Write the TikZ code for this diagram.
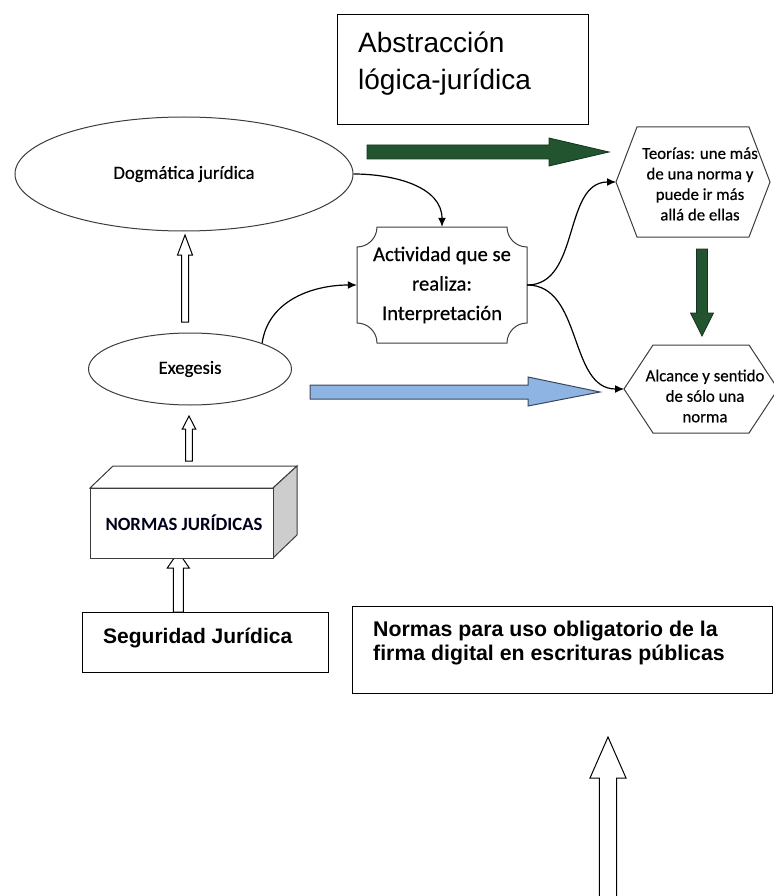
\documentclass[tikz,border=0pt]{standalone}
\usepackage{fontspec}
\setmainfont{Carlito}
\newfontfamily\calf[FakeBold=0.5]{Carlito}
\newfontfamily\arialf{Liberation Sans}
\usetikzlibrary{shapes.geometric,arrows.meta}
\definecolor{dkgreen}{RGB}{34,84,48}
\definecolor{dkgreenline}{RGB}{20,50,30}
\definecolor{lblue}{RGB}{141,180,226}
\definecolor{blueline}{RGB}{60,70,90}
\definecolor{shapeline}{RGB}{60,60,60}
\definecolor{sidegray}{RGB}{205,205,205}
\newcommand\blockup[7]{% x, ybottom, ytip, half shaft, half head, head length, style
  \draw[#7] (#1-#4,#2) -- (#1-#4,#3+#6) -- (#1-#5,#3+#6) -- (#1,#3) -- (#1+#5,#3+#6) -- (#1+#4,#3+#6) -- (#1+#4,#2) -- cycle;}
\begin{document}
\begin{tikzpicture}[x=1pt,y=-1pt,
  conn/.style={draw=black, line width=1.2pt, -{Latex[length=9pt,width=8pt]}},
  hollow/.style={draw=black, fill=white, line width=1pt},
  oval/.style={ellipse, draw=shapeline, line width=1pt, inner sep=0pt},
  shapeln/.style={draw=shapeline, line width=1pt},
  plainbox/.style={draw=black, line width=1.4pt, inner sep=0pt},
]
\useasboundingbox (0,0) rectangle (773,896);

% --- top box
\node[plainbox, anchor=north west, minimum width=251pt, minimum height=110pt] (absbox) at (337,14) {};
\node[anchor=base west, align=left, inner sep=0pt, font=\arialf\fontsize{28}{37}\selectfont] (abstxt) at (358,90) {Abstracción\\lógica-jurídica};

% --- ellipses
\node[oval, minimum width=338pt, minimum height=114pt, font=\calf\fontsize{18.7}{22}\selectfont] (dog) at (184,174) {Dogmática jurídica};
\node[oval, minimum width=203pt, minimum height=72pt, font=\calf\fontsize{18.7}{22}\selectfont] (exe) at (190,369) {Exegesis};

% --- plaque (Actividad)
\node[minimum width=170pt, minimum height=116pt, align=center, font=\calf\fontsize{20.7}{29.5}\selectfont] (act) at (442,285) {Actividad que se\\realiza:\\Interpretación};
\draw[shapeln] (377,227) -- (507,227) .. controls (507,238) and (516,247) .. (527,247)
  -- (527,323) .. controls (516,323) and (507,332) .. (507,343)
  -- (377,343) .. controls (377,332) and (368,323) .. (357,323)
  -- (357,247) .. controls (368,247) and (377,238) .. (377,227) -- cycle;

% --- hexagons
\draw[shapeln] (616,182) -- (637,127) -- (749,127) -- (770,182) -- (749,237) -- (637,237) -- cycle;
\coordinate (teoL) at (616,182);
\node[align=center, font=\calf\fontsize{16.8}{20.5}\selectfont] (teo) at (700,184) {Teorías: une más\\de una norma y\\puede ir más\\allá de ellas};
\draw[shapeln] (624,389) -- (653,345) -- (749,345) -- (778,389) -- (749,433) -- (653,433) -- cycle;
\coordinate (alcL) at (624,389);
\node[align=center, font=\calf\fontsize{16.8}{20.5}\selectfont] (alc) at (705,396) {Alcance y sentido\\de sólo una\\norma};

% --- connectors
\draw[conn] (dog.east) to[out=0,in=90] (act.north);
\draw[conn] (exe.north east) to[out=82,in=180] (act.west);
\draw[conn] (act.east) to[out=0,in=180] (teoL);
\draw[conn] (act.east) to[out=0,in=180] (alcL);

% --- coloured block arrows
\draw[draw=dkgreenline, fill=dkgreen, line width=0.8pt] (367,145) -- (549,145) -- (549,138) -- (609,152) -- (549,166) -- (549,159) -- (367,159) -- cycle;
\draw[draw=dkgreenline, fill=dkgreen, line width=0.8pt] (696.5,249) -- (707.5,249) -- (707.5,313) -- (713.5,313) -- (702,336) -- (690.5,313) -- (696.5,313) -- cycle;
\draw[draw=blueline, fill=lblue, line width=1pt] (310,385) -- (528,385) -- (528,377) -- (600,392) -- (528,406) -- (528,399) -- (310,399) -- cycle;

% --- hollow arrows
\blockup{185}{322}{235}{3.5}{7.5}{20}{hollow}
\blockup{189}{461}{416}{3.3}{6.7}{13}{hollow}
\blockup{178.3}{612}{552}{5}{11}{16}{hollow}
\draw[hollow] (599.3,896) -- (599.3,778) -- (590,778) -- (608,737) -- (626,778) -- (616.7,778) -- (616.7,896);

% --- cuboid NORMAS JURIDICAS
\draw[shapeln, fill=white] (90,488) -- (113,466) -- (297,466) -- (273,488) -- cycle;
\draw[shapeln, fill=sidegray] (273,488) -- (297,466) -- (297,535) -- (273,558) -- cycle;
\draw[shapeln, fill=white] (90,488) rectangle (273,558);
\node[font=\bfseries\fontsize{18.7}{22}\selectfont, text=black!90!blue] (nj) at (184,523) {NORMAS JURÍDICAS};

% --- bottom boxes
\node[plainbox, anchor=north west, minimum width=246pt, minimum height=60pt] (segbox) at (82,612) {};
\node[anchor=base west, inner sep=0pt, font=\arialf\bfseries\fontsize{21}{25}\selectfont] (segtxt) at (103,643) {Seguridad Jurídica};
\node[plainbox, anchor=north west, minimum width=420pt, minimum height=87pt] (firmabox) at (352,606) {};
\node[anchor=base west, align=left, inner sep=0pt, font=\arialf\bfseries\fontsize{21.3}{23.5}\selectfont] (firmatxt) at (373,660) {Normas para uso obligatorio de la\\firma digital en escrituras públicas};
\end{tikzpicture}
\end{document}
